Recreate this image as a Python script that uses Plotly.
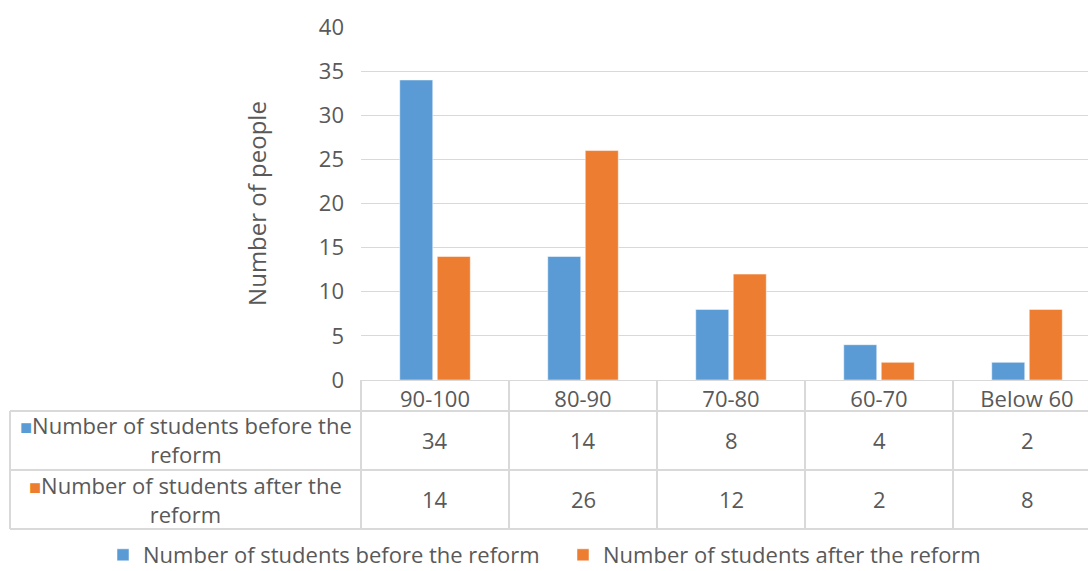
import plotly.graph_objects as go

categories = ["90-100", "80-90", "70-80", "60-70", "Below 60"]
series_names = ["Number of students before the reform", "Number of students after the reform"]
before = [34, 14, 8, 4, 2]
after = [14, 26, 12, 2, 8]
colors = ["#5B9BD5", "#ED7D31"]
y_ticks = [0, 5, 10, 15, 20, 25, 30, 35, 40]

W, H = 1088, 571
L, T, B = 361, 27, 191
PW = W - L
PH = H - T - B
TXT = "#595959"
GRID = "#D9D9D9"


def px_x(px):
    return (px - L) / PW


def px_y(py):
    return (H - B - py) / PH


fig = go.Figure()
for name, vals, col in zip(series_names, [before, after], colors):
    fig.add_trace(go.Bar(x=categories, y=vals, name=name, marker=dict(color=col, line=dict(color="white", width=0.5))))

# table lines
lines = [
    (10, 411, W, 411),
    (10, 470, W, 470),
    (10, 529, W, 529),
    (10, 411, 10, 529),
]
for xv in [361, 509, 657, 805, 953]:
    lines.append((xv, 380, xv, 529))
for x0, y0, x1, y1 in lines:
    fig.add_shape(type="line", xref="paper", yref="paper", x0=px_x(x0), x1=px_x(x1), y0=px_y(y0), y1=px_y(y1),
                  line=dict(color=GRID, width=2))

row_centers = [440, 499]
for name, vals, col, rc in zip(series_names, [before, after], colors, row_centers):
    first, last = name.rsplit(" ", 1)
    fig.add_annotation(xref="paper", yref="paper", x=px_x(185.5), y=px_y(rc), xanchor="center", yanchor="middle",
                       text=f'<span style="color:{col};font-size:20px">■</span>{first}<br>{last}',
                       showarrow=False, align="center", font=dict(size=22, color=TXT))
    for c, v in zip(categories, vals):
        fig.add_annotation(xref="x", yref="paper", x=c, y=px_y(rc), text=str(v), showarrow=False,
                           xanchor="center", yanchor="middle", font=dict(size=22, color=TXT))

fig.update_layout(
    width=W, height=H,
    margin=dict(l=L, r=0, t=T, b=B, autoexpand=False),
    paper_bgcolor="white", plot_bgcolor="white",
    font=dict(family="Open Sans", size=22, color=TXT),
    bargap=0.493, bargroupgap=0.12,
    legend=dict(orientation="h", x=px_x(103), xanchor="left", y=px_y(555), yanchor="middle",
                font=dict(size=22, color=TXT), entrywidth=415, entrywidthmode="pixels",
                bgcolor="rgba(0,0,0,0)"),
    xaxis=dict(range=[-0.5, 4.5 - (1101 - W) / 148], showline=True, linecolor=GRID, linewidth=1,
               showgrid=False, ticks="", tickfont=dict(size=22, color=TXT), ticklabelstandoff=0),
    yaxis=dict(range=[0, 40], tickvals=y_ticks, showgrid=True, gridcolor=GRID, gridwidth=1,
               zeroline=False, showline=False, ticks="", tickfont=dict(size=22, color=TXT),
               ticklabelstandoff=16,
               title=dict(text="Number of people", font=dict(size=24, color=TXT), standoff=45)),
)

fig.write_html("out.html")
